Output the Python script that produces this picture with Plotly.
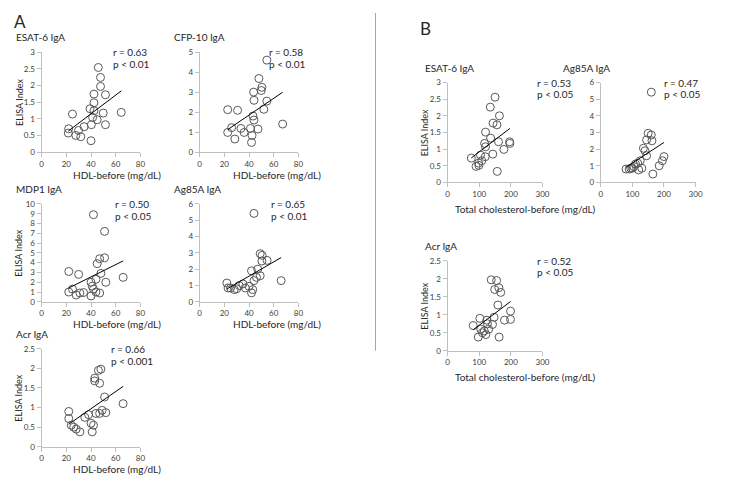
import numpy as np
import plotly.graph_objects as go

W, H = 740, 478

# ---------------- data ----------------
# Panel A : HDL-before (mg/dL) vs ELISA index
a_esat6_x = [45.9, 47.7, 47.7, 42.4, 51.7, 42.4, 39.2, 42.4, 49.9, 64.5, 25.0, 41.3, 45.0, 40.3, 51.7, 34.4, 29.9, 21.9, 21.6, 27.7, 31.7, 40.0]
a_esat6_y = [2.54, 2.24, 1.97, 1.74, 1.72, 1.48, 1.30, 1.24, 1.17, 1.19, 1.14, 1.04, 0.97, 0.82, 0.82, 0.76, 0.65, 0.70, 0.57, 0.50, 0.46, 0.34]

a_cfp10_x = [54.4, 48.0, 50.4, 49.9, 43.7, 44.0, 54.4, 52.0, 22.7, 30.7, 43.2, 44.0, 67.2, 25.9, 33.4, 41.1, 47.2, 22.7, 36.0, 28.5, 42.4, 42.0]
a_cfp10_y = [4.60, 3.68, 3.24, 3.08, 3.00, 2.59, 2.55, 2.14, 2.12, 2.09, 1.80, 1.60, 1.40, 1.22, 1.18, 1.18, 1.15, 0.98, 0.98, 0.65, 0.83, 0.48]

a_mdp1_x = [42.0, 51.0, 47.0, 51.0, 45.0, 22.0, 30.0, 40.0, 44.0, 48.0, 52.0, 66.0, 22.0, 25.0, 28.0, 31.0, 34.0, 40.0, 42.0, 44.0, 47.0, 41.0]
a_mdp1_y = [8.9, 7.2, 4.4, 4.5, 3.9, 3.1, 2.8, 2.0, 2.3, 2.9, 2.0, 2.5, 1.0, 1.3, 0.7, 0.9, 0.95, 0.6, 1.3, 1.0, 0.9, 1.6]

a_ag85a_x = [44.0, 49.0, 50.6, 50.4, 54.6, 42.0, 47.0, 49.0, 46.0, 44.0, 22.0, 23.0, 25.0, 28.0, 30.0, 32.0, 35.0, 37.0, 40.0, 42.0, 43.0, 66.0]
a_ag85a_y = [5.42, 2.95, 2.85, 2.50, 2.54, 1.90, 2.00, 1.60, 1.50, 1.30, 1.15, 0.85, 0.85, 0.75, 0.80, 1.00, 1.10, 0.85, 0.95, 0.55, 0.75, 1.30]

a_acr_x = [46.0, 48.0, 43.0, 43.0, 47.0, 51.0, 66.0, 22.0, 22.0, 24.0, 26.0, 28.0, 31.0, 35.0, 38.0, 40.0, 41.0, 42.0, 44.0, 47.0, 49.0, 52.0]
a_acr_y = [1.95, 1.98, 1.75, 1.68, 1.62, 1.27, 1.10, 0.90, 0.72, 0.55, 0.50, 0.45, 0.38, 0.75, 0.82, 0.60, 0.38, 0.55, 0.85, 0.85, 0.93, 0.87]

# Panel B : Total cholesterol-before (mg/dL) vs ELISA index
b_esat6_x = [150, 135, 164, 144, 156, 120, 136, 161, 196, 117, 197, 120, 178, 143, 104, 119, 75, 108, 98, 99, 90, 157]
b_esat6_y = [2.56, 2.26, 2.00, 1.78, 1.73, 1.51, 1.33, 1.22, 1.22, 1.17, 1.17, 1.07, 0.99, 0.85, 0.82, 0.77, 0.73, 0.65, 0.58, 0.51, 0.48, 0.33]

b_ag85a_x = [160, 150, 160, 145, 162, 140, 135, 200, 195, 185, 117, 100, 80, 95, 105, 120, 130, 110, 125, 165, 90, 145]
b_ag85a_y = [5.42, 2.95, 2.85, 2.55, 2.50, 1.90, 2.05, 1.55, 1.30, 1.00, 1.15, 0.85, 0.80, 0.85, 0.95, 0.75, 0.85, 1.10, 1.30, 0.50, 0.80, 1.60]

b_acr_x = [138, 155, 149, 162, 168, 159, 199, 102, 81, 124, 126, 142, 147, 180, 199, 116, 110, 97, 121, 163, 130, 105]
b_acr_y = [1.97, 1.95, 1.70, 1.75, 1.62, 1.27, 1.10, 0.90, 0.70, 0.85, 0.75, 0.73, 0.93, 0.85, 0.87, 0.55, 0.50, 0.38, 0.45, 0.38, 0.60, 0.60]

titles = ["ESAT-6 IgA", "CFP-10 IgA", "MDP1 IgA", "Ag85A IgA", "Acr IgA",
          "ESAT-6 IgA", "Ag85A IgA", "Acr IgA"]
r_texts = ["r = 0.63", "r = 0.58", "r = 0.50", "r = 0.65", "r = 0.66",
           "r = 0.53", "r = 0.47", "r = 0.52"]
p_texts = ["p < 0.01", "p < 0.01", "p < 0.05", "p < 0.01", "p < 0.001",
           "p < 0.05", "p < 0.05", "p < 0.05"]
y_max = [3, 5, 10, 6, 2.5, 3, 6, 2.5]
y_dtick = [0.5, 1, 1, 1, 0.5, 0.5, 1, 0.5]
hdl_label = "HDL-before (mg/dL)"
tc_label = "Total cholesterol-before (mg/dL)"
y_label = "ELISA Index"

xs = [a_esat6_x, a_cfp10_x, a_mdp1_x, a_ag85a_x, a_acr_x, b_esat6_x, b_ag85a_x, b_acr_x]
ys = [a_esat6_y, a_cfp10_y, a_mdp1_y, a_ag85a_y, a_acr_y, b_esat6_y, b_ag85a_y, b_acr_y]

# ---------------- layout (pixel boxes of plot areas) ----------------
boxes = [  # left, right, top, bottom
    (32, 132, 40, 142),
    (192, 292, 40, 142),
    (32, 132, 195, 295),
    (192, 292, 195, 295),
    (32, 132, 343, 443),
    (443, 539, 71, 173),
    (598, 694, 71, 173),
    (443, 539, 253, 345),
]
x_max = [80] * 5 + [300] * 3
x_dtick = [20] * 5 + [100] * 3
show_ylab = [True, False, True, False, True, True, False, True]
x_titles = [hdl_label] * 5 + [tc_label, None, tc_label]
xlab_dx = [30, 32, 30, 32, 30, 5, 0, 5]
xlab_dy = [23, 23, 23, 23, 23, 27, 0, 27]
rp_dx = [70, 68, 72, 70, 68, 88, 62, 88]
title_dx = [-28, -28, -28, -28, -28, -25, -40, -25]

FONT = "Lato, 'Open Sans', Arial, sans-serif"
TXT = "#262626"
AXC = "#bfbfbf"

def px(x):
    return x / W

def py(y):
    return 1 - y / H

fig = go.Figure()
layout = dict(width=W, height=H, margin=dict(l=0, r=0, t=0, b=0),
              paper_bgcolor="white", plot_bgcolor="white",
              showlegend=False, font=dict(family=FONT, color=TXT))
annotations = []
shapes = []

for i in range(8):
    l, r, t, b = boxes[i]
    n = "" if i == 0 else str(i + 1)
    xa, ya = "x" + n, "y" + n
    x = np.array(xs[i], dtype=float)
    y = np.array(ys[i], dtype=float)
    fig.add_trace(go.Scatter(x=x, y=y, mode="markers", xaxis=xa, yaxis=ya,
                             marker=dict(symbol="circle-open", size=8,
                                         color="#595959", line=dict(width=1))))
    k, c = np.polyfit(x, y, 1)
    xl = np.array([x.min(), x.max()])
    fig.add_trace(go.Scatter(x=xl, y=k * xl + c, mode="lines", xaxis=xa, yaxis=ya,
                             line=dict(color="#000000", width=1)))
    layout["xaxis" + n] = dict(domain=[px(l), px(r)], anchor=ya, range=[0, x_max[i]],
                               dtick=x_dtick[i], tick0=0, showline=True, linecolor=AXC,
                               linewidth=1, ticks="outside", ticklen=4, tickcolor=AXC,
                               showgrid=False, zeroline=False,
                               tickfont=dict(size=8, color="#404040", family=FONT))
    layout["yaxis" + n] = dict(domain=[py(b), py(t)], anchor=xa, range=[0, y_max[i]],
                               dtick=y_dtick[i], tick0=0, showline=True, linecolor=AXC,
                               linewidth=1, ticks="outside", ticklen=4, tickcolor=AXC,
                               showgrid=False, zeroline=False,
                               tickfont=dict(size=8, color="#404040", family=FONT))
    # panel title
    annotations.append(dict(x=px(l + title_dx[i]), y=py(t - 15), xref="paper", yref="paper",
                            text=titles[i], showarrow=False, xanchor="left",
                            yanchor="middle", font=dict(size=10, color=TXT, family=FONT)))
    # r / p
    annotations.append(dict(x=px(l + rp_dx[i]), y=py(t), xref="paper", yref="paper",
                            text=r_texts[i], showarrow=False, xanchor="left",
                            yanchor="middle", font=dict(size=10, color=TXT, family=FONT)))
    annotations.append(dict(x=px(l + rp_dx[i]), y=py(t + 12), xref="paper", yref="paper",
                            text=p_texts[i], showarrow=False, xanchor="left",
                            yanchor="middle", font=dict(size=10, color=TXT, family=FONT)))
    if show_ylab[i]:
        annotations.append(dict(x=px(l - 23), y=py((t + b) / 2), xref="paper", yref="paper",
                                text=y_label, showarrow=False, textangle=-90,
                                xanchor="center", yanchor="middle",
                                font=dict(size=9, color=TXT, family=FONT)))
    if x_titles[i]:
        annotations.append(dict(x=px(l + xlab_dx[i]), y=py(b + xlab_dy[i]), xref="paper",
                                yref="paper", text=x_titles[i], showarrow=False,
                                xanchor="left", yanchor="middle",
                                font=dict(size=10, color=TXT, family=FONT)))

annotations.append(dict(x=px(10), y=py(9), xref="paper", yref="paper", text="A",
                        showarrow=False, xanchor="center", yanchor="middle",
                        font=dict(size=17, color=TXT, family=FONT)))
annotations.append(dict(x=px(421), y=py(16), xref="paper", yref="paper", text="B",
                        showarrow=False, xanchor="center", yanchor="middle",
                        font=dict(size=17, color=TXT, family=FONT)))
shapes.append(dict(type="line", xref="paper", yref="paper", x0=px(370), x1=px(370),
                   y0=py(0), y1=py(345), line=dict(color="#a6a6a6", width=1)))

layout["annotations"] = annotations
layout["shapes"] = shapes
fig.update_layout(**layout)
fig.write_html("out.html")
